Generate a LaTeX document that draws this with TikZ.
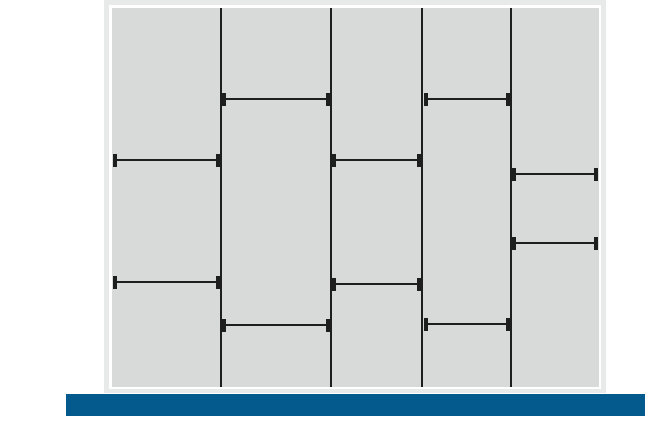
\documentclass[tikz,border=0pt]{standalone}
\definecolor{panel}{HTML}{D8D9D9}
\definecolor{frame}{HTML}{E8E9E9}
\definecolor{barblue}{HTML}{045A8D}
\definecolor{ink}{HTML}{1E1E1E}
\newcommand\shelfdiv[3]{%
  \draw[divline] (#1,#3) -- (#2,#3);
  \fill[ink] (#1-1,#3-6.5) rectangle (#1+3,#3+6.5);
  \fill[ink] (#2-3,#3-6.5) rectangle (#2+1,#3+6.5);
}
\begin{document}
\begin{tikzpicture}[x=1pt,y=-1pt,
  divline/.style={ink,line width=1.6pt},
  sep/.style={ink,line width=1.1pt}]
\useasboundingbox (0,0) rectangle (645,440);
\fill[frame] (104,0) rectangle (606,393);
\fill[white] (109,5) rectangle (601,389);
\fill[panel] (111.5,7.5) rectangle (598.5,386.5);
\fill[barblue] (66,393.5) rectangle (645,416);
\foreach \x in {221,331,422,511} \draw[sep] (\x,7.5) -- (\x,386.5);
\shelfdiv{114}{219}{160}
\shelfdiv{114}{219}{282}
\shelfdiv{223}{329}{99}
\shelfdiv{223}{329}{325}
\shelfdiv{333}{420}{160}
\shelfdiv{333}{420}{284}
\shelfdiv{425}{509}{99}
\shelfdiv{425}{509}{324}
\shelfdiv{513}{597}{174}
\shelfdiv{513}{597}{243}
\end{tikzpicture}
\end{document}
